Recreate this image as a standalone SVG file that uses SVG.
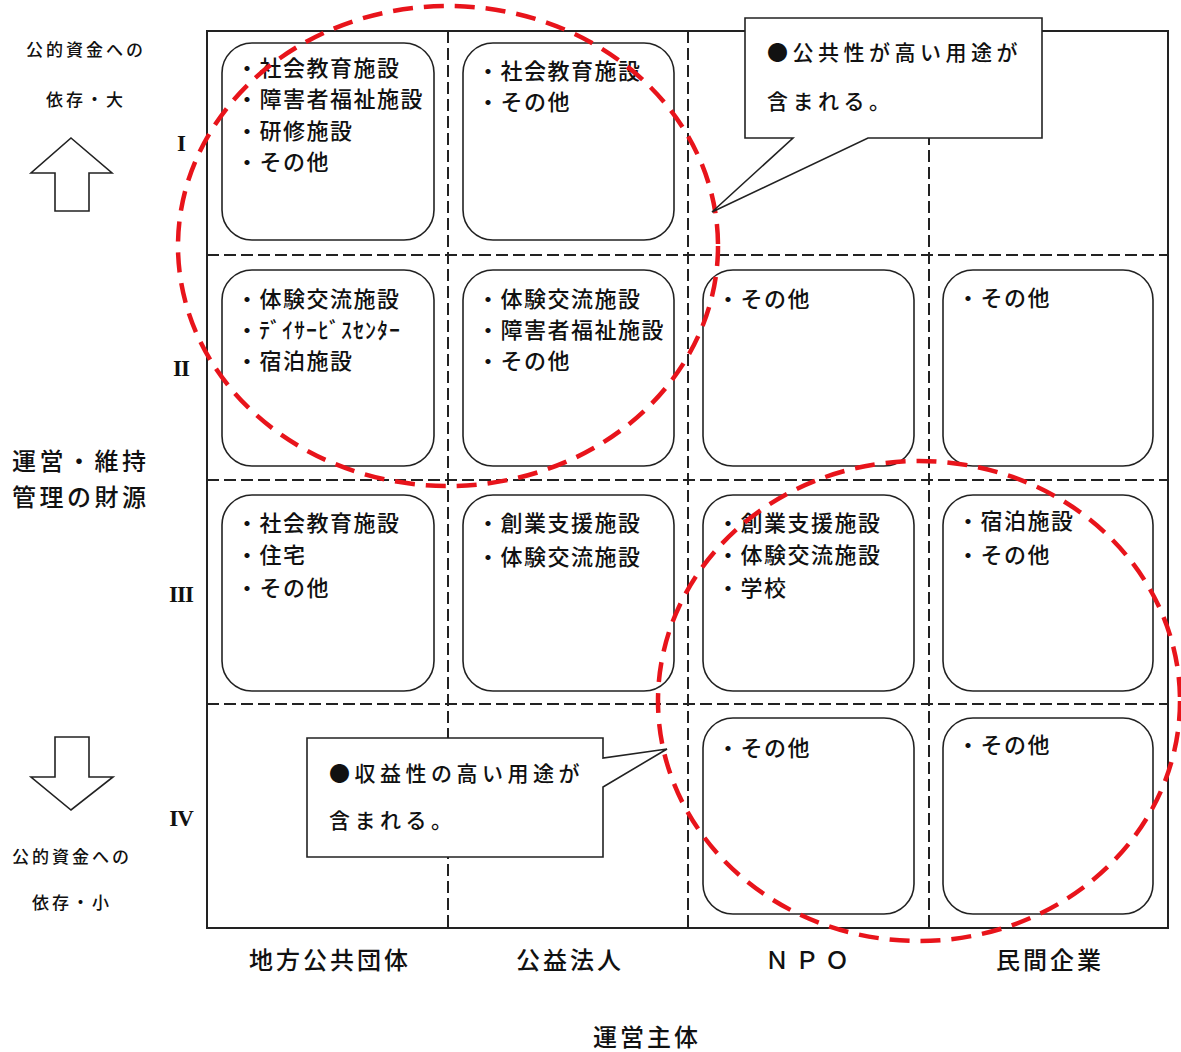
<svg xmlns="http://www.w3.org/2000/svg" width="1181" height="1052" viewBox="0 0 1181 1052">
<style>
text{font-family:"Noto Sans CJK JP","Noto Sans",sans-serif;fill:#111;font-weight:500}
.bx{fill:#fff;stroke:#222;stroke-width:1.6}
.it{font-size:22px;letter-spacing:1.5px}
.grid{stroke:#222;stroke-width:2;stroke-dasharray:12 5;fill:none}
.frame{fill:none;stroke:#222;stroke-width:2}
.red{fill:none;stroke:#e8141b;stroke-width:4.5;stroke-dasharray:20 11}
.call{fill:#fff;stroke:#222;stroke-width:1.6}
.ct{font-size:21px;letter-spacing:4.5px}
.lab{font-size:17px;letter-spacing:3px}
.col{font-size:24px;letter-spacing:3px}
.rn{font-family:"Liberation Serif","DejaVu Serif",serif;font-size:23px;font-weight:bold;letter-spacing:-1px}
.arrow{fill:#fff;stroke:#222;stroke-width:1.6}
</style>
<rect width="1181" height="1052" fill="#fff"/>
<g id="grid">
<rect class="frame" x="207" y="31" width="961" height="897"/>
<line class="grid" x1="448" y1="31" x2="448" y2="928"/>
<line class="grid" x1="688" y1="31" x2="688" y2="928"/>
<line class="grid" x1="929" y1="31" x2="929" y2="928"/>
<line class="grid" x1="207" y1="255" x2="1168" y2="255"/>
<line class="grid" x1="207" y1="480" x2="1168" y2="480"/>
<line class="grid" x1="207" y1="704" x2="1168" y2="704"/>
</g>
<g id="box-r1c1"><rect class="bx" x="222" y="43" width="212" height="197" rx="30"/>
<text class="it" x="236" y="76">・社会教育施設</text><text class="it" x="236" y="107">・障害者福祉施設</text><text class="it" x="236" y="139">・研修施設</text><text class="it" x="236" y="170">・その他</text></g>
<g id="box-r1c2"><rect class="bx" x="463" y="43" width="211" height="197" rx="30"/>
<text class="it" x="477" y="79">・社会教育施設</text><text class="it" x="477" y="110">・その他</text></g>
<g id="box-r2c1"><rect class="bx" x="222" y="270" width="212" height="196" rx="30"/>
<text class="it" x="236" y="307">・体験交流施設</text><text class="it" x="236" y="338" style="letter-spacing:1px">・ﾃﾞｲｻｰﾋﾞｽｾﾝﾀｰ</text><text class="it" x="236" y="369">・宿泊施設</text></g>
<g id="box-r2c2"><rect class="bx" x="463" y="270" width="211" height="196" rx="30"/>
<text class="it" x="477" y="307">・体験交流施設</text><text class="it" x="477" y="338">・障害者福祉施設</text><text class="it" x="477" y="369">・その他</text></g>
<g id="box-r2c3"><rect class="bx" x="703" y="270" width="211" height="196" rx="30"/>
<text class="it" x="717" y="307">・その他</text></g>
<g id="box-r2c4"><rect class="bx" x="943" y="270" width="210" height="196" rx="30"/>
<text class="it" x="957" y="306">・その他</text></g>
<g id="box-r3c1"><rect class="bx" x="222" y="495" width="212" height="196" rx="30"/>
<text class="it" x="236" y="531">・社会教育施設</text><text class="it" x="236" y="563">・住宅</text><text class="it" x="236" y="596">・その他</text></g>
<g id="box-r3c2"><rect class="bx" x="463" y="495" width="211" height="196" rx="30"/>
<text class="it" x="477" y="531">・創業支援施設</text><text class="it" x="477" y="565">・体験交流施設</text></g>
<g id="box-r3c3"><rect class="bx" x="703" y="495" width="211" height="196" rx="30"/>
<text class="it" x="717" y="531">・創業支援施設</text><text class="it" x="717" y="563">・体験交流施設</text><text class="it" x="717" y="596">・学校</text></g>
<g id="box-r3c4"><rect class="bx" x="943" y="495" width="210" height="196" rx="30"/>
<text class="it" x="957" y="529">・宿泊施設</text><text class="it" x="957" y="563">・その他</text></g>
<g id="box-r4c3"><rect class="bx" x="703" y="718" width="211" height="196" rx="30"/>
<text class="it" x="717" y="756">・その他</text></g>
<g id="box-r4c4"><rect class="bx" x="943" y="718" width="210" height="196" rx="30"/>
<text class="it" x="957" y="753">・その他</text></g>
<g id="ellipses">
<ellipse class="red" cx="448" cy="246" rx="270" ry="240"/>
<ellipse class="red" cx="919" cy="701" rx="261" ry="240"/>
</g>
<g id="callout-top">
<path class="call" d="M745 18 H1042 V138 H868 L712 212 L793 138 H745 Z"/>
<text class="ct" x="767" y="60">●公共性が高い用途が</text>
<text class="ct" x="767" y="109">含まれる。</text>
</g>
<g id="callout-bottom">
<path class="call" d="M307 738 H603 V758 L667 749 L603 787 V857 H307 Z"/>
<text class="ct" x="329" y="781">●収益性の高い用途が</text>
<text class="ct" x="329" y="828">含まれる。</text>
</g>
<g id="left-axis">
<text class="lab" x="86" y="56" text-anchor="middle">公的資金への</text>
<text class="lab" x="86" y="106" text-anchor="middle">依存・大</text>
<path class="arrow" d="M71 138 L112 173 H89 V211 H55 V173 H31 Z"/>
<path class="arrow" d="M55 737 H89 V777 H113 L71 810 L31 777 H55 Z"/>
<text class="lab" x="72" y="863" text-anchor="middle">公的資金への</text>
<text class="lab" x="72" y="909" text-anchor="middle">依存・小</text>
<text class="col" x="12" y="470" style="letter-spacing:3.5px">運営・維持</text>
<text class="col" x="12" y="506" style="letter-spacing:3.5px">管理の財源</text>
<text class="rn" x="181" y="151" text-anchor="middle">I</text>
<text class="rn" x="181" y="376" text-anchor="middle">II</text>
<text class="rn" x="181" y="602" text-anchor="middle">III</text>
<text class="rn" x="181" y="826" text-anchor="middle">IV</text>
</g>
<g id="bottom-axis">
<text class="col" x="330" y="969" text-anchor="middle">地方公共団体</text>
<text class="col" x="570" y="969" text-anchor="middle">公益法人</text>
<text class="col" x="810" y="969" text-anchor="middle" style="letter-spacing:6px">ＮＰＯ</text>
<text class="col" x="1050" y="969" text-anchor="middle">民間企業</text>
<text class="col" x="647" y="1046" text-anchor="middle">運営主体</text>
</g>
</svg>
